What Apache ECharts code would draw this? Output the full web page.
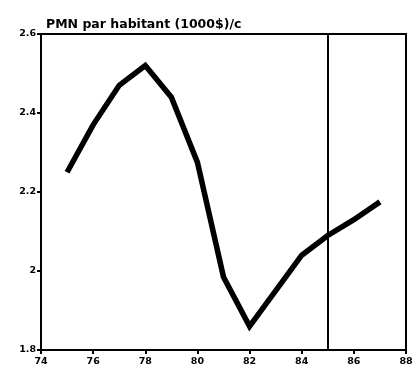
<!DOCTYPE html>
<html><head><meta charset="utf-8">
<script src="https://cdn.jsdelivr.net/npm/echarts@6/dist/echarts.min.js"></script>
<style>html,body{margin:0;padding:0;background:#fff}#c{width:417px;height:374px}</style>
</head><body><div id="c"></div>
<script>
const years = [75, 76, 77, 78, 79, 80, 81, 82, 84, 85, 86, 87];
const pmn = [2.25, 2.37, 2.47, 2.52, 2.44, 2.275, 1.985, 1.86, 2.04, 2.09, 2.13, 2.175];
const xTicks = [74, 76, 78, 80, 82, 84, 86, 88];
const yTicks = [1.8, 2, 2.2, 2.4, 2.6];
const divider = 85;
const title = 'PMN par habitant (1000$)/c';

const chart = echarts.init(document.getElementById('c'));
const lbl = {color:'#000', fontFamily:'DejaVu Sans', fontWeight:'bold', fontSize:9.5};
chart.setOption({
  animation:false,
  backgroundColor:'#fff',
  title:{text:title, left:41, top:13, textStyle:{fontFamily:'DejaVu Sans', fontWeight:'bold', fontSize:12.5, color:'#000'}},
  grid:{left:41, right:11, top:34, bottom:24, show:true, borderColor:'#000', borderWidth:2},
  xAxis:{type:'value', min:xTicks[0], max:xTicks[xTicks.length-1], interval:2,
    axisLine:{lineStyle:{color:'#000', width:2}}, axisTick:{show:true, length:4, lineStyle:{color:'#000', width:2}},
    axisLabel:Object.assign({margin:7, formatter:v=>xTicks.includes(v)?String(v):''}, lbl), splitLine:{show:false}},
  yAxis:{type:'value', min:yTicks[0], max:yTicks[yTicks.length-1], interval:0.2,
    axisLine:{show:true, lineStyle:{color:'#000', width:2}}, axisTick:{show:true, length:4, lineStyle:{color:'#000', width:2}},
    axisLabel:Object.assign({margin:5, formatter:v=>String(Math.round(v*10)/10)}, lbl), splitLine:{show:false}},
  series:[{type:'line', data:years.map((y,i)=>[y,pmn[i]]), symbol:'none',
    lineStyle:{color:'#000', width:5.5, join:'miter'},
    markLine:{silent:true, symbol:'none', label:{show:false}, lineStyle:{color:'#000', width:2, type:'solid'},
      data:[{xAxis:divider}]}}]
});
</script></body></html>
